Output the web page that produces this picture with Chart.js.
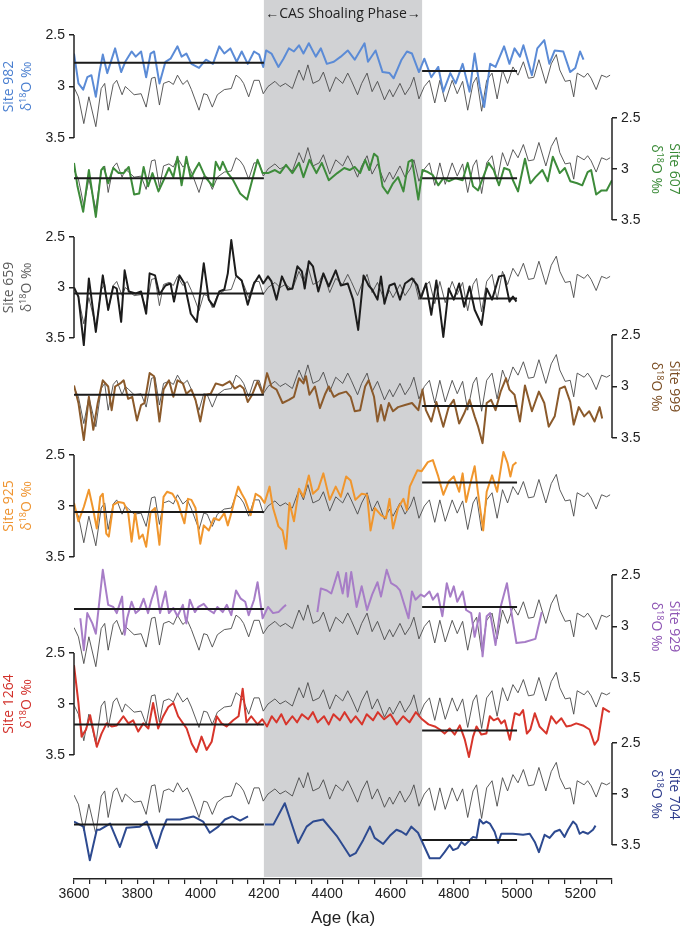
<!DOCTYPE html>
<html>
<head>
<meta charset="utf-8">
<script src="https://cdn.jsdelivr.net/npm/chart.js@4.4.1/dist/chart.umd.min.js"></script>
<style>
  html, body { margin: 0; padding: 0; background: #fff; }
  #wrap { width: 685px; height: 933px; }
</style>
</head>
<body>
<div id="wrap"><canvas id="chart" width="685" height="933"></canvas></div>
<script>
// benthic stack (grey line, repeated in every panel), [age ka, d18O]
const stackRef = [[3600,3.01],[3614,3.10],[3631,3.36],[3647,3.10],[3669,3.39],[3686,3.02],[3697,2.97],[3708,3.23],[3724,2.98],[3735,2.94],[3752,3.08],[3762,3.00],[3773,3.03],[3790,3.08],[3812,3.07],[3828,3.20],[3845,2.92],[3856,2.91],[3870,3.18],[3883,2.97],[3900,2.95],[3914,2.98],[3927,2.89],[3944,2.98],[3958,2.94],[3971,3.03],[3995,3.23],[4010,3.07],[4021,3.08],[4037,3.20],[4053,3.08],[4075,3.03],[4097,3.02],[4112,2.89],[4125,2.92],[4136,2.97],[4152,3.10],[4169,2.94],[4185,2.94],[4198,3.07],[4213,3.00],[4235,2.95],[4251,3.00],[4268,2.97],[4290,3.02],[4311,2.84],[4325,2.94],[4339,2.79],[4355,2.97],[4375,2.94],[4388,2.86],[4408,3.05],[4427,2.91],[4449,2.97],[4465,2.87],[4476,2.94],[4496,3.08],[4509,2.97],[4526,2.87],[4542,3.05],[4559,2.95],[4581,3.13],[4597,3.03],[4608,3.10],[4630,2.97],[4646,3.08],[4663,3.00],[4674,2.91],[4690,3.12],[4707,3.00],[4723,2.94],[4740,3.16],[4756,2.94],[4773,3.15],[4795,2.94],[4811,3.07],[4828,2.95],[4844,3.23],[4861,2.97],[4872,2.91],[4888,3.24],[4904,2.94],[4921,2.87],[4937,3.12],[4954,2.84],[4970,2.97],[4987,2.81],[5003,2.89],[5020,2.76],[5036,2.92],[5053,2.91],[5069,2.74],[5091,2.97],[5108,2.78],[5124,2.69],[5135,2.84],[5152,2.95],[5168,2.94],[5179,3.10],[5190,2.87],[5212,2.91],[5223,2.87],[5234,2.92],[5250,3.03],[5267,2.89],[5283,2.91],[5294,2.89]];

const site982 = [[3600,2.68],[3614,2.97],[3629,3.03],[3642,2.91],[3655,2.89],[3669,3.10],[3680,2.87],[3691,2.69],[3705,2.87],[3730,2.63],[3749,2.86],[3762,2.76],[3782,2.66],[3795,2.71],[3812,2.66],[3828,2.91],[3842,2.68],[3853,2.66],[3870,2.97],[3889,2.76],[3905,2.73],[3927,2.61],[3940,2.71],[3955,2.68],[3971,2.78],[3995,2.82],[4017,2.74],[4039,2.78],[4059,2.61],[4075,2.68],[4094,2.63],[4114,2.76],[4130,2.66],[4149,2.78],[4169,2.66],[4185,2.69],[4198,2.81],[4207,2.65],[4224,2.68],[4246,2.81],[4262,2.73],[4279,2.63],[4295,2.66],[4311,2.60],[4325,2.68],[4342,2.58],[4364,2.71],[4380,2.63],[4399,2.78],[4421,2.76],[4443,2.71],[4465,2.65],[4487,2.74],[4518,2.58],[4529,2.76],[4553,2.65],[4575,2.86],[4597,2.87],[4610,2.92],[4635,2.74],[4652,2.66],[4668,2.68],[4690,2.86],[4707,2.73],[4729,2.91],[4751,2.81],[4767,3.05],[4789,2.87],[4806,2.97],[4828,2.78],[4850,3.05],[4866,2.68],[4882,3.00],[4896,3.20],[4915,2.78],[4932,2.81],[4959,2.61],[4976,2.78],[4992,2.63],[5009,2.71],[5020,2.60],[5047,2.89],[5064,2.63],[5086,2.55],[5102,2.78],[5119,2.65],[5146,2.66],[5168,2.86],[5184,2.82],[5199,2.66],[5210,2.74]];

const site607 = [[3600,2.94],[3611,3.17],[3629,3.42],[3647,3.01],[3669,3.47],[3686,3.01],[3694,2.98],[3708,3.14],[3724,2.99],[3741,3.04],[3757,3.04],[3773,2.98],[3790,3.25],[3806,3.24],[3820,2.98],[3834,3.17],[3848,3.04],[3867,3.22],[3883,3.11],[3900,2.99],[3914,3.08],[3927,2.88],[3940,3.16],[3955,2.88],[3969,3.09],[3982,3.01],[3995,2.94],[4015,3.08],[4039,3.17],[4048,2.93],[4061,3.01],[4070,2.93],[4086,3.04],[4103,3.11],[4125,3.24],[4147,3.30],[4163,3.11],[4180,2.91],[4196,3.04],[4213,3.04],[4235,3.01],[4251,3.04],[4270,2.96],[4290,3.04],[4311,2.94],[4325,3.08],[4344,2.91],[4366,3.04],[4383,2.94],[4405,3.11],[4432,3.04],[4454,2.99],[4471,3.01],[4487,2.98],[4504,3.04],[4520,2.91],[4533,3.01],[4548,2.85],[4559,2.88],[4575,3.17],[4591,3.24],[4608,3.14],[4624,3.08],[4641,3.22],[4657,2.93],[4668,2.91],[4688,3.30],[4701,3.01],[4718,3.03],[4734,3.06],[4751,3.16],[4767,3.09],[4784,3.12],[4806,3.09],[4828,3.11],[4844,2.94],[4861,3.17],[4877,3.21],[4893,3.08],[4910,2.94],[4926,3.01],[4943,3.16],[4959,2.99],[4976,3.01],[4987,3.11],[5003,3.22],[5025,2.90],[5042,3.14],[5058,3.08],[5080,3.01],[5097,3.12],[5113,2.88],[5135,3.04],[5151,2.99],[5168,3.12],[5190,3.14],[5206,3.16],[5223,3.03],[5234,3.01],[5250,3.25],[5267,3.21],[5283,3.21],[5300,3.11]];

const site659 = [[3600,3.00],[3614,3.09],[3631,3.57],[3647,2.91],[3669,3.44],[3691,2.88],[3708,3.22],[3724,2.99],[3735,3.01],[3749,3.34],[3760,2.83],[3773,3.04],[3795,3.06],[3812,3.04],[3828,3.26],[3839,2.86],[3856,2.88],[3870,3.07],[3889,2.98],[3905,2.96],[3916,3.14],[3933,2.88],[3949,2.96],[3969,3.26],[3988,3.34],[4010,2.76],[4026,3.12],[4042,3.19],[4059,3.04],[4075,3.02],[4086,2.86],[4097,2.53],[4112,2.88],[4130,2.93],[4149,3.17],[4169,2.96],[4185,2.88],[4198,2.96],[4213,2.89],[4224,2.94],[4240,3.12],[4257,2.89],[4276,3.02],[4290,3.01],[4306,2.79],[4320,2.84],[4329,3.01],[4342,2.74],[4355,2.79],[4372,3.04],[4388,2.86],[4405,2.99],[4427,2.83],[4443,2.98],[4465,2.96],[4482,3.12],[4498,3.42],[4515,2.88],[4531,2.98],[4542,3.02],[4559,3.12],[4570,2.89],[4581,3.16],[4597,2.98],[4613,2.96],[4630,3.12],[4646,2.96],[4668,2.91],[4685,2.98],[4696,3.11],[4712,2.96],[4729,3.27],[4745,2.93],[4767,3.49],[4784,3.01],[4800,3.12],[4817,2.96],[4833,3.19],[4850,2.99],[4866,3.22],[4888,3.37],[4904,3.01],[4921,3.12],[4943,2.89],[4959,2.88],[4976,3.14],[4987,3.09],[4998,3.14]];

const site999 = [[3600,2.99],[3614,3.16],[3631,3.52],[3647,3.10],[3661,3.42],[3675,3.16],[3691,2.94],[3708,3.00],[3719,3.23],[3730,3.00],[3746,2.97],[3757,2.94],[3771,3.12],[3784,3.10],[3799,3.33],[3812,3.18],[3823,3.16],[3839,2.87],[3853,2.90],[3870,3.34],[3883,3.03],[3900,2.94],[3914,3.10],[3927,2.94],[3944,2.97],[3955,3.07],[3971,3.03],[3984,3.13],[3999,3.34],[4015,3.08],[4032,3.07],[4048,2.97],[4070,2.99],[4092,2.95],[4108,3.02],[4125,2.99],[4136,3.02],[4149,3.15],[4163,3.08],[4180,2.95],[4196,3.07],[4210,2.87],[4224,3.00],[4240,3.03],[4259,3.16],[4279,3.13],[4295,3.10],[4311,2.92],[4325,2.97],[4333,2.90],[4344,3.08],[4361,3.00],[4377,3.21],[4394,3.07],[4405,3.00],[4421,3.10],[4438,3.07],[4460,3.05],[4474,3.10],[4487,3.24],[4504,3.23],[4520,3.00],[4531,2.94],[4548,3.10],[4559,3.34],[4570,3.18],[4581,3.33],[4595,3.16],[4608,3.24],[4624,3.20],[4646,3.18],[4668,3.16],[4688,3.23],[4701,3.03],[4712,3.23],[4729,3.34],[4745,3.15],[4767,3.39],[4784,3.20],[4800,3.13],[4817,3.36],[4833,3.26],[4850,3.13],[4866,3.29],[4877,3.39],[4891,3.55],[4904,3.16],[4918,3.13],[4932,3.23],[4948,3.05],[4965,2.92],[4976,3.03],[4992,3.08],[5009,3.34],[5025,2.99],[5047,3.24],[5069,3.05],[5086,3.16],[5100,3.39],[5119,3.29],[5135,3.02],[5151,3.00],[5168,3.15],[5179,3.37],[5195,3.20],[5212,3.29],[5228,3.24],[5245,3.34],[5261,3.20],[5269,3.31]];

const site925 = [[3600,2.97],[3614,3.15],[3631,3.01],[3647,2.84],[3661,3.04],[3672,3.22],[3683,2.91],[3691,2.88],[3702,3.27],[3710,3.30],[3724,2.99],[3741,2.96],[3757,2.97],[3771,3.06],[3782,3.35],[3793,3.06],[3806,3.32],[3817,3.28],[3828,3.40],[3842,3.06],[3856,3.02],[3870,3.38],[3883,2.91],[3894,2.86],[3911,2.88],[3927,2.96],[3949,3.17],[3960,2.93],[3971,2.94],[3984,3.02],[3999,3.37],[4010,3.19],[4026,3.24],[4042,3.12],[4059,3.14],[4075,3.07],[4086,3.19],[4097,3.07],[4108,2.93],[4119,2.81],[4130,2.88],[4141,2.94],[4158,3.09],[4174,2.88],[4189,2.91],[4202,2.97],[4218,2.81],[4229,3.02],[4246,3.20],[4259,3.24],[4270,3.42],[4281,2.97],[4295,3.15],[4311,2.83],[4325,2.91],[4342,2.70],[4355,2.88],[4372,2.83],[4388,2.68],[4408,2.94],[4427,2.81],[4443,2.91],[4460,2.71],[4474,2.75],[4489,2.94],[4509,2.88],[4526,2.89],[4537,3.24],[4551,3.02],[4570,3.09],[4586,3.12],[4597,2.93],[4608,3.22],[4624,3.02],[4641,2.93],[4652,3.04],[4661,2.81],[4676,2.71],[4685,2.65],[4698,2.66],[4718,2.57],[4734,2.55],[4751,2.71],[4767,2.89],[4784,2.76],[4800,2.71],[4817,2.86],[4828,2.68],[4839,2.96],[4850,2.81],[4866,2.61],[4877,2.88],[4893,3.24],[4904,2.86],[4921,2.70],[4937,2.86],[4957,2.47],[4970,2.58],[4979,2.71],[4987,2.60],[4998,2.57]];

const site929 = [[3620,2.92],[3631,3.23],[3642,2.87],[3658,2.97],[3669,3.07],[3691,2.45],[3708,2.79],[3724,2.81],[3735,2.87],[3752,2.71],[3760,3.08],[3768,2.92],[3782,2.76],[3795,2.87],[3806,2.84],[3820,2.73],[3834,2.87],[3845,2.74],[3859,2.61],[3872,2.87],[3889,2.66],[3900,2.87],[3914,2.82],[3927,2.90],[3944,2.79],[3955,2.97],[3966,2.74],[3982,2.86],[3993,2.81],[4010,2.78],[4026,2.84],[4042,2.87],[4053,2.81],[4070,2.86],[4083,2.79],[4097,2.89],[4112,2.65],[4127,2.73],[4141,2.76],[4152,2.89],[4169,2.74],[4180,2.57],[4196,2.92],[4213,2.81],[4229,2.87],[4246,2.86],[4262,2.81],[4270,2.79],[4320,null],[4369,2.86],[4380,2.63],[4399,2.65],[4413,2.68],[4434,2.47],[4449,2.68],[4460,2.48],[4465,2.71],[4476,2.47],[4493,2.81],[4509,2.61],[4526,2.84],[4542,2.69],[4559,2.57],[4570,2.71],[4588,2.45],[4602,2.58],[4619,2.61],[4630,2.65],[4643,2.78],[4657,2.92],[4668,2.66],[4679,2.74],[4696,2.69],[4707,2.71],[4723,2.66],[4734,2.74],[4749,2.68],[4764,2.90],[4778,2.58],[4789,2.71],[4800,2.61],[4811,2.76],[4828,2.66],[4839,2.84],[4855,2.87],[4866,3.10],[4882,2.87],[4891,3.29],[4904,2.90],[4915,2.87],[4932,3.18],[4948,2.81],[4968,2.58],[4981,2.84],[4998,3.16],[5025,3.15],[5058,3.12],[5078,2.86]];

const site1264 = [[3600,2.62],[3614,2.99],[3624,3.32],[3638,3.25],[3651,3.11],[3672,3.42],[3687,3.29],[3703,3.19],[3719,3.22],[3735,3.21],[3756,3.12],[3772,3.19],[3787,3.16],[3803,3.27],[3819,3.19],[3835,3.24],[3850,2.99],[3866,3.24],[3882,3.12],[3898,3.03],[3914,2.99],[3929,3.12],[3956,3.24],[3972,3.39],[3987,3.47],[4003,3.32],[4019,3.45],[4035,3.37],[4051,3.12],[4066,3.19],[4082,3.22],[4103,3.16],[4120,3.12],[4133,2.85],[4145,3.18],[4160,3.12],[4180,3.20],[4195,3.15],[4210,3.22],[4225,3.12],[4240,3.18],[4255,3.10],[4270,3.20],[4290,3.12],[4305,3.18],[4320,3.10],[4340,3.15],[4355,3.08],[4370,3.18],[4390,3.12],[4405,3.20],[4420,3.10],[4440,3.16],[4455,3.08],[4475,3.18],[4490,3.12],[4510,3.20],[4525,3.10],[4545,3.16],[4560,3.08],[4580,3.15],[4600,3.10],[4620,3.20],[4640,3.12],[4660,3.18],[4680,3.08],[4700,3.15],[4720,3.20],[4740,3.22],[4756,3.25],[4771,3.29],[4787,3.24],[4803,3.30],[4819,3.21],[4835,3.35],[4848,3.52],[4861,3.32],[4872,3.22],[4887,3.30],[4903,3.29],[4914,3.12],[4926,3.16],[4940,3.14],[4950,3.19],[4961,3.16],[4977,3.35],[4993,3.09],[5008,3.11],[5019,3.06],[5031,3.29],[5042,3.25],[5056,3.09],[5071,3.22],[5093,3.29],[5108,3.12],[5124,3.19],[5140,3.14],[5156,3.22],[5172,3.21],[5187,3.19],[5208,3.21],[5229,3.25],[5245,3.40],[5256,3.35],[5272,3.04],[5293,3.08]];

const site704 = [[3600,3.27],[3630,3.32],[3650,3.65],[3672,3.35],[3682,3.35],[3714,3.29],[3745,3.52],[3766,3.33],[3808,3.32],[3830,3.27],[3861,3.53],[3877,3.37],[3893,3.25],[3935,3.25],[3977,3.22],[4008,3.27],[4029,3.38],[4056,3.32],[4077,3.25],[4100,3.22],[4125,3.26],[4150,3.22],[4175,null],[4203,3.30],[4230,3.30],[4266,3.09],[4308,3.48],[4335,3.32],[4356,3.27],[4387,3.25],[4430,3.41],[4472,3.61],[4490,3.58],[4514,3.45],[4535,3.32],[4550,3.43],[4577,3.49],[4598,3.41],[4619,3.35],[4635,3.37],[4650,3.40],[4666,3.32],[4687,3.38],[4724,3.63],[4756,3.63],[4771,3.57],[4787,3.50],[4798,3.55],[4813,3.53],[4824,3.47],[4835,3.50],[4845,3.47],[4861,3.42],[4872,3.43],[4882,3.25],[4893,3.29],[4903,3.27],[4914,3.29],[4929,3.37],[4940,3.48],[4950,3.39],[4987,3.39],[5019,3.40],[5040,3.39],[5056,3.47],[5069,3.57],[5087,3.40],[5103,3.43],[5119,3.37],[5135,3.35],[5150,3.42],[5161,3.35],[5177,3.27],[5187,3.30],[5198,3.39],[5208,3.37],[5224,3.39],[5240,3.35],[5248,3.31]];

// black mean lines: before (3600-4200) and after (4700-5000) the shoaling phase
const siteNames  = ['982', '607', '659', '999', '925', '929', '1264', '704'];
const meanBefore = [2.77, 3.09, 3.06, 3.08, 3.06, 2.83, 3.20, 3.30];
const meanAfter  = [2.85, 3.09, 3.11, 3.19, 2.77, 2.81, 3.26, 3.45];
const yTicks = [2.5, 3, 3.5];
const xTickLabels = [3600, 3800, 4000, 4200, 4400, 4600, 4800, 5000, 5200];
const phase = [4200, 4700];
const meanSpans = [[3600, 4200], [4700, 5000]];

const seriesData = [site982, site607, site659, site999, site925, site929, site1264, site704];

// panel layout: pixel row of the 2.5 tick, px per permil, side
const panels = [
  { side: 'left',  top: 35,  k: 103, line: '#5b8bd6', text: '#4a7fd0' },
  { side: 'right', top: 118, k: 102, line: '#3d8b3a', text: '#3a8a37' },
  { side: 'left',  top: 237, k: 101, line: '#1c1c1c', text: '#5c5c5c' },
  { side: 'right', top: 335, k: 103, line: '#8b5a2b', text: '#7b4e24' },
  { side: 'left',  top: 455, k: 102, line: '#f0962d', text: '#ef9430' },
  { side: 'right', top: 575, k: 103, line: '#a77dc7', text: '#8e55b4' },
  { side: 'left',  top: 653, k: 102, line: '#d7352b', text: '#d2302a' },
  { side: 'right', top: 743, k: 102, line: '#2d4a90', text: '#2d3b8c' },
];

const PLOT_H = 879;
const FONT = '"Liberation Sans", Arial, sans-serif';
const TITLE_FONT = '"Open Sans", "Liberation Sans", sans-serif';
const INK = '#222';

const toXY = arr => arr.map(([x, y]) => ({ x, y }));

const datasets = [];
const scales = {
  x: {
    type: 'linear', position: 'bottom', min: 3600, max: 5300,
    afterFit: s => { s.height = 933 - PLOT_H; s.paddingLeft = 0; s.paddingRight = 0; },
    ticks: {
      stepSize: 50, autoSkip: false, maxRotation: 0, padding: 2, color: INK,
      font: { family: FONT, size: 14 },
      callback: v => xTickLabels.includes(v) ? String(v) : ''
    },
    grid: { drawOnChartArea: false, tickLength: 5, color: INK, lineWidth: 1.2 },
    border: { color: INK, width: 1.5 },
    title: { display: true, text: 'Age (ka)', color: INK, font: { family: FONT, size: 17 }, padding: { top: 3 } }
  }
};

panels.forEach((p, i) => {
  const id = 'y' + siteNames[i];
  const min = 2.5 - p.top / p.k;
  scales[id] = {
    type: 'linear', position: p.side, reverse: true,
    min, max: min + PLOT_H / p.k,
    afterBuildTicks: s => { s.ticks = yTicks.map(v => ({ value: v })); },
    afterFit: s => { s.width = 0; s.paddingTop = 0; s.paddingBottom = 0; },
    ticks: { display: false },
    grid: { drawOnChartArea: false, tickLength: 5, color: INK, lineWidth: 1.5 },
    border: { display: false }
  };
  datasets.push({
    data: toXY(stackRef), yAxisID: id, borderColor: '#4a4a4a', borderWidth: 0.9, order: 3
  });
  datasets.push({
    data: toXY(seriesData[i]), yAxisID: id, borderColor: p.line, borderWidth: 2, order: 2
  });
  datasets.push({
    data: [
      { x: meanSpans[0][0], y: meanBefore[i] }, { x: meanSpans[0][1], y: meanBefore[i] },
      { x: 4450, y: null },
      { x: meanSpans[1][0], y: meanAfter[i] }, { x: meanSpans[1][1], y: meanAfter[i] }
    ],
    yAxisID: id, borderColor: '#1a1a1a', borderWidth: 2, order: 1
  });
});

function drawDelta(ctx, cx, cy, rot, color) {
  const parts = [
    { t: 'δ', size: 14, dy: 0 },
    { t: '18', size: 9, dy: -5 },
    { t: 'O ‰', size: 14, dy: 0 }
  ];
  ctx.save();
  ctx.translate(cx, cy);
  ctx.rotate(rot);
  ctx.fillStyle = color;
  ctx.textBaseline = 'alphabetic';
  ctx.textAlign = 'left';
  let total = 0;
  parts.forEach(pt => { ctx.font = `${pt.size}px ${TITLE_FONT}`; pt.w = ctx.measureText(pt.t).width; total += pt.w; });
  let x = -total / 2;
  parts.forEach(pt => {
    ctx.font = `${pt.size}px ${TITLE_FONT}`;
    ctx.fillText(pt.t, x, 5 + pt.dy);
    x += pt.w;
  });
  ctx.restore();
}

const decor = {
  id: 'decor',
  beforeDatasetsDraw(chart) {
    const { ctx, chartArea } = chart;
    const xs = chart.scales.x;
    const x0 = xs.getPixelForValue(phase[0]), x1 = xs.getPixelForValue(phase[1]);
    ctx.save();
    ctx.fillStyle = '#d1d2d4';
    ctx.fillRect(x0, chartArea.top, x1 - x0, chartArea.bottom - chartArea.top - 2);
    ctx.restore();
  },
  afterDraw(chart) {
    const { ctx } = chart;
    const xs = chart.scales.x;
    ctx.save();
    ctx.fillStyle = INK;
    ctx.font = `14px ${TITLE_FONT}`;
    ctx.textAlign = 'center';
    ctx.textBaseline = 'middle';
    ctx.fillText('←CAS Shoaling Phase→', xs.getPixelForValue((phase[0] + phase[1]) / 2), 14);
    ctx.restore();

    panels.forEach((p, i) => {
      const s = chart.scales['y' + siteNames[i]];
      const left = p.side === 'left';
      const ax = left ? s.right : s.left;
      ctx.save();
      ctx.strokeStyle = INK;
      ctx.lineWidth = 1.5;
      ctx.beginPath();
      ctx.moveTo(ax, s.getPixelForValue(yTicks[0]));
      ctx.lineTo(ax, s.getPixelForValue(yTicks[2]));
      ctx.stroke();
      // tick labels
      ctx.fillStyle = INK;
      ctx.font = `14px ${FONT}`;
      ctx.textBaseline = 'middle';
      ctx.textAlign = left ? 'right' : 'left';
      yTicks.forEach(v => {
        ctx.fillText(String(v), left ? ax - 9 : ax + 9, s.getPixelForValue(v));
      });
      ctx.restore();

      const cy = s.getPixelForValue(3);
      const rot = left ? -Math.PI / 2 : Math.PI / 2;
      ctx.save();
      ctx.translate(left ? 9 : 674, cy);
      ctx.rotate(rot);
      ctx.fillStyle = p.text;
      ctx.font = `14px ${TITLE_FONT}`;
      ctx.textAlign = 'center';
      ctx.textBaseline = 'middle';
      ctx.fillText('Site ' + siteNames[i], 0, 0);
      ctx.restore();
      drawDelta(ctx, left ? 26 : 657, cy, rot, p.text);
    });
  }
};

new Chart(document.getElementById('chart'), {
  type: 'line',
  data: { datasets },
  options: {
    responsive: false,
    animation: false,
    layout: { padding: { left: 74, right: 73, top: 0, bottom: 0 } },
    elements: { point: { radius: 0 }, line: { tension: 0, borderJoinStyle: 'round' } },
    plugins: { legend: { display: false }, tooltip: { enabled: false } },
    scales
  },
  plugins: [decor]
});
</script>
</body>
</html>
